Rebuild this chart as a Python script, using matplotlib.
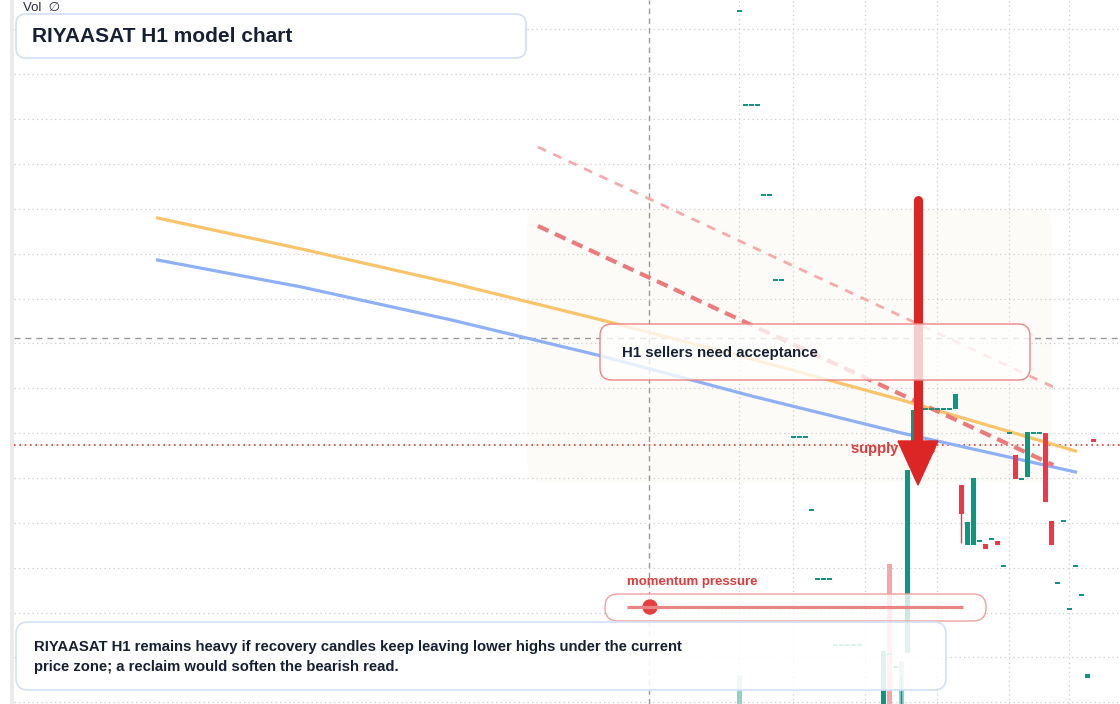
import numpy as np
import matplotlib
matplotlib.use("Agg")
import matplotlib.pyplot as plt
from matplotlib.patches import FancyBboxPatch, Polygon, Rectangle, Circle

plt.rcParams['font.family'] = ['Liberation Sans', 'DejaVu Sans']

GREEN = '#089981'
RED = '#f23645'

# ---- candles (bar index, open, close) ----
bar_idx = [0, 1, 2, 3, 4, 5, 6, 7,
           9, 10, 11, 12, 13, 14, 15, 16, 17, 18, 19, 20,
           24, 25, 26, 27, 28, 29, 30, 31, 32, 33, 34, 35,
           36, 37, 38, 39, 40, 41, 42, 43, 44, 45, 46, 47,
           48, 49, 50, 51, 52, 53, 54, 55, 56, 57, 58, 59]
opens = [33.89, 32.95, 32.95, 32.95, 32.05, 32.05, 31.20, 31.20,
         29.63, 29.63, 29.63, 28.90, 28.21, 28.21, 28.21, 27.55, 27.55, 27.55, 27.55, 27.55,
         26.80, 27.46, 27.33, 26.80, 27.47, 29.55, 29.91, 29.91, 29.91, 29.91, 29.91, 29.91,
         29.91, 29.15, 28.55, 28.55, 28.59, 28.56, 28.61, 28.59, 28.34, 29.67, 29.45, 29.21,
         29.23, 29.67, 29.67, 29.67, 28.79, 28.17, 28.79, 27.91, 28.34, 28.05, 27.22, 29.61]
closes = [33.89, 32.95, 32.95, 32.95, 32.05, 32.05, 31.20, 31.20,
          29.63, 29.63, 29.63, 28.90, 28.21, 28.21, 28.21, 27.55, 27.55, 27.55, 27.55, 27.55,
          27.49, 27.46, 27.33, 26.85, 29.30, 29.90, 29.91, 29.91, 29.91, 29.91, 29.91, 29.91,
          30.06, 28.86, 28.78, 29.22, 28.59, 28.51, 28.61, 28.55, 28.34, 29.67, 29.21, 29.21,
          29.68, 29.67, 29.67, 28.98, 28.55, 28.17, 28.79, 27.91, 28.34, 28.05, 27.26, 29.58]
# only visible wicks
wick_idx = [27, 37]
wick_high = [27.24, 29.15]
wick_low = [26.70, 28.57]

# volume (thousands)
vol_idx = [0, 25, 27]
vol_k = [29, 140, 43]
vol_up = [True, False, True]

# moving averages
ma_idx = [-97, -73, -48, -23, 2, 27, 56]
ema_fast = [31.82, 31.51, 31.17, 30.80, 30.41, 30.00, 29.49]
ema_slow = [31.40, 31.13, 30.80, 30.44, 30.04, 29.67, 29.28]

# sloping resistance lines
trend_idx = [-33.6, 52.3]
trend_main = [31.74, 29.35]
trend_upper = [32.53, 30.13]

# levels
cross_idx = -15.1
cross_price = 30.62
supply_price = 29.55
zone_idx = (-35.4, 52.1)
zone_price = (29.18, 31.90)
arrow_idx = 29.75
arrow_top = 32.00
arrow_tip = 29.15

grid_idx = [0, 9, 21, 33, 45, 55]
grid_price = 33.707 - 0.4487 * np.arange(16)

fig = plt.figure(figsize=(11.2, 7.04), dpi=100)
fig.patch.set_facecolor('white')
W, H = 1120, 704
left = 14 / W
xlim = (-120.92, 63.42)
ylim = (26.96, 34.00)

# volume pane
vax = fig.add_axes([left, 0, 1 - left, 1], zorder=0)
vax.set_xlim(*xlim)
vax.set_ylim(0, 704)
vax.axis('off')
vax.bar(vol_idx, vol_k, width=0.85,
        color=[GREEN if u else RED for u in vol_up], alpha=0.45, linewidth=0)

# price pane
ax = fig.add_axes([left, 0, 1 - left, 1], zorder=1)
ax.patch.set_alpha(0)
ax.set_xlim(*xlim)
ax.set_ylim(*ylim)
for s in ax.spines.values():
    s.set_visible(False)
ax.set_xticks(grid_idx)
ax.set_yticks(grid_price)
ax.tick_params(length=0, labelleft=False, labelbottom=False)
ax.grid(True, color='#cdcdcd', linewidth=0.9, linestyle=(0, (1, 2.6)))
ax.set_axisbelow(True)

zone = FancyBboxPatch((zone_idx[0], zone_price[0]), zone_idx[1] - zone_idx[0],
                      zone_price[1] - zone_price[0],
                      boxstyle='round,pad=0,rounding_size=2.5', mutation_aspect=0.06,
                      facecolor='#fdf8f3', edgecolor='none', alpha=0.55, zorder=0.5)
ax.add_patch(zone)

ax.axvline(cross_idx, color='#9a9a9a', lw=1, dashes=(4, 3), zorder=1.5)
ax.axhline(cross_price, color='#9a9a9a', lw=1, dashes=(4.3, 3.6), zorder=1.5)
ax.axhline(supply_price, color='#e53935', lw=1.2, linestyle=(0, (1, 2.2)), zorder=2)

ax.plot(ma_idx, ema_fast, color='#f9c46b', lw=2.3, zorder=2.2)
ax.plot(ma_idx, ema_slow, color='#8fb0f5', lw=2.3, zorder=2.2)
ax.plot(trend_idx, trend_upper, color='#f4abab', lw=2, dashes=(3.2, 2.9), zorder=2.3)
ax.plot(trend_idx, trend_main, color='#eb7a7a', lw=3, dashes=(2.8, 1.7), zorder=2.3)

# candles
x = np.array(bar_idx, dtype=float)
o = np.array(opens)
c = np.array(closes)
up = c >= o
flat = np.abs(c - o) < 0.012
body_h = np.where(flat, 0.012, np.abs(c - o))
body_lo = np.where(flat, o - 0.006, np.minimum(o, c))
ax.bar(x[up], body_h[up], bottom=body_lo[up], width=0.85, color=GREEN, linewidth=0, zorder=3)
ax.bar(x[~up], body_h[~up], bottom=body_lo[~up], width=0.85, color=RED, linewidth=0, zorder=3)
wick_col = [GREEN if closes[bar_idx.index(i)] >= opens[bar_idx.index(i)] else RED for i in wick_idx]
ax.vlines(wick_idx, wick_low, wick_high, colors=wick_col, lw=1, zorder=3)

ax.text(18.6, 29.51, 'supply zone', color='#e03a3a', fontsize=10.5,
        fontweight='bold', va='center', ha='left', zorder=4)

# bearish arrow
head_len = 0.44
head_half = 3.33
ax.plot([arrow_idx, arrow_idx], [arrow_top, arrow_tip + head_len], color='#dc2626',
        lw=6.5, solid_capstyle='round', zorder=5)
ax.add_patch(Polygon([(arrow_idx - head_half, arrow_tip + head_len),
                      (arrow_idx + head_half, arrow_tip + head_len),
                      (arrow_idx, arrow_tip)], closed=True, color='#dc2626', zorder=5))

# overlay in pixel space for annotation boxes
ov = fig.add_axes([0, 0, 1, 1], zorder=5)
ov.set_xlim(0, W)
ov.set_ylim(H, 0)
ov.axis('off')
ov.add_patch(Rectangle((10, 0), 4, H, color='#ebebeb', lw=0))

ov.text(23, 8, 'Vol  \u2205', fontsize=9.5, color='#2a2e39', va='center', ha='left')

ov.add_patch(FancyBboxPatch((16, 14), 510, 44, boxstyle='round,pad=0,rounding_size=10',
                            facecolor='white', edgecolor='#d2def6', lw=1.2))
ov.text(32, 36, 'RIYAASAT H1 model chart', fontsize=15, fontweight='bold',
        color='#172033', va='center', ha='left')

ov.add_patch(FancyBboxPatch((600, 324), 430, 56, boxstyle='round,pad=0,rounding_size=12',
                            facecolor=(1, 1, 1, 0.78), edgecolor='#ec8585', lw=1))
ov.text(622, 353, 'H1 sellers need acceptance', fontsize=10.8, fontweight='bold',
        color='#172033', va='center', ha='left')

ov.text(627, 582, 'momentum pressure', fontsize=9.5, fontweight='bold',
        color='#e03a3a', va='center', ha='left')
ov.add_patch(FancyBboxPatch((605, 594), 381, 27, boxstyle='round,pad=0,rounding_size=13',
                            facecolor=(1, 1, 1, 0.8), edgecolor='#f0a0a0', lw=1))
ov.plot([627, 963], [607, 607], color='#e98585', lw=2.3, solid_capstyle='butt')
ov.add_patch(Circle((650, 607), 7, color='#e53e3e'))

ov.add_patch(FancyBboxPatch((16, 622), 930, 68, boxstyle='round,pad=0,rounding_size=12',
                            facecolor=(1, 1, 1, 0.88), edgecolor='#d4e0f7', lw=1.2))
ov.text(34, 647, 'RIYAASAT H1 remains heavy if recovery candles keep leaving lower highs under the current',
        fontsize=10.75, fontweight='bold', color='#172033', va='center', ha='left')
ov.text(34, 667, 'price zone; a reclaim would soften the bearish read.',
        fontsize=10.75, fontweight='bold', color='#172033', va='center', ha='left')

fig.savefig('out.png', dpi=100, facecolor='white')
